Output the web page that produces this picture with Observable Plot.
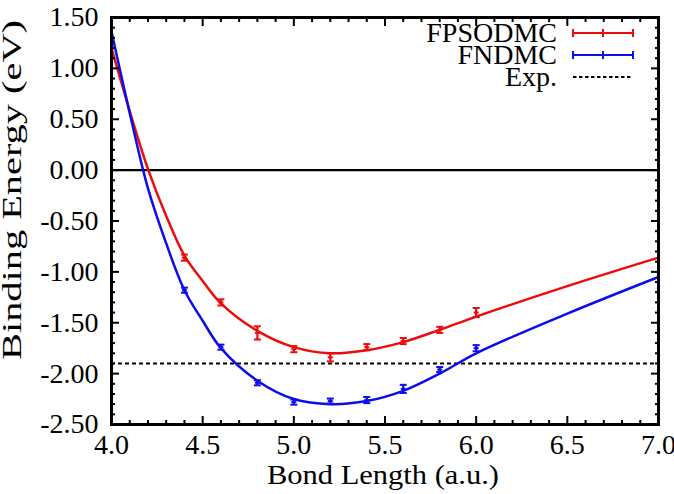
<!DOCTYPE html>
<html><head><meta charset="utf-8">
<script src="https://cdn.jsdelivr.net/npm/d3@7"></script>
<script src="https://cdn.jsdelivr.net/npm/@observablehq/plot@0.6"></script>
<style>body{margin:0;background:#fff;} #chart svg{display:block;overflow:visible;}</style>
</head><body><div id="chart"></div>
<script>
// ---- data ----
const xMajor = [4.0, 4.5, 5.0, 5.5, 6.0, 6.5, 7.0];
const xMinor = [4.1, 4.2, 4.3, 4.4, 4.6, 4.7, 4.8, 4.9, 5.1, 5.2, 5.3, 5.4, 5.6, 5.7, 5.8, 5.9, 6.1, 6.2, 6.3, 6.4, 6.6, 6.7, 6.8, 6.9];
const yMajor = [-2.5, -2.0, -1.5, -1.0, -0.5, 0.0, 0.5, 1.0, 1.5];
const yMinor = [-2.4, -2.3, -2.2, -2.1, -1.9, -1.8, -1.7, -1.6, -1.4, -1.3, -1.2, -1.1, -0.9, -0.8, -0.7, -0.6, -0.4, -0.3, -0.2, -0.1, 0.1, 0.2, 0.3, 0.4, 0.6, 0.7, 0.8, 0.9, 1.1, 1.2, 1.3, 1.4];

const bondLength = [4.4, 4.6, 4.8, 5.0, 5.2, 5.4, 5.6, 5.8, 6.0];
const fpsoEnergy = [-0.86, -1.30, -1.60, -1.76, -1.84, -1.74, -1.68, -1.57, -1.40];
const fpsoError  = [0.03, 0.03, 0.065, 0.03, 0.04, 0.03, 0.03, 0.03, 0.045];
const fnEnergy   = [-1.18, -1.74, -2.09, -2.28, -2.27, -2.26, -2.15, -1.96, -1.75];
const fnError    = [0.025, 0.025, 0.025, 0.025, 0.025, 0.03, 0.04, 0.025, 0.03];

const fitX    = [4.0, 4.1, 4.2, 4.3, 4.4, 4.5, 4.6, 4.8, 5.0, 5.2, 5.4, 5.6, 5.8, 6.0, 6.5, 7.0];
const fpsoFit = [1.20, 0.58, 0.01, -0.45, -0.84, -1.09, -1.31, -1.58, -1.74, -1.80, -1.77, -1.69, -1.57, -1.44, -1.14, -0.86];
const fnFit   = [1.36, 0.56, -0.18, -0.72, -1.18, -1.48, -1.75, -2.07, -2.25, -2.30, -2.27, -2.17, -2.00, -1.80, -1.41, -1.05];
const expEnergy = -1.90;

const seriesNames = ["FPSODMC", "FNDMC", "Exp."];
const RED = "#ec0c0c", BLUE = "#0c0cec";

// ---- tables ----
const fitRows = fitX.map((x, i) => ({x, fpso: fpsoFit[i], fn: fnFit[i]}));
const pts = bondLength.map((x, i) => ({x, fpso: fpsoEnergy[i], fpsoE: fpsoError[i], fn: fnEnergy[i], fnE: fnError[i]}));

const capSymbol = {draw(ctx, size) { const w = Math.sqrt(size / Math.PI); ctx.moveTo(-w, 0); ctx.lineTo(w, 0); }};

function errMarks(key, eKey, color) {
  return [
    Plot.ruleX(pts, {x: "x", y1: d => d[key] - d[eKey], y2: d => d[key] + d[eKey], stroke: color, strokeWidth: 2.2}),
    Plot.dot(pts, {x: "x", y: d => d[key] - d[eKey], symbol: capSymbol, r: 3.5, stroke: color, strokeWidth: 2, fill: "none"}),
    Plot.dot(pts, {x: "x", y: d => d[key] + d[eKey], symbol: capSymbol, r: 3.5, stroke: color, strokeWidth: 2, fill: "none"}),
    Plot.dot(pts, {x: "x", y: key, symbol: capSymbol, r: 2.5, stroke: color, strokeWidth: 2, fill: "none"})
  ];
}

const font = "Liberation Serif, Times New Roman, serif";

const chart = Plot.plot({
  width: 674, height: 494,
  marginLeft: 111, marginRight: 16, marginTop: 17, marginBottom: 70,
  style: {fontFamily: font, background: "#fff", color: "#000"},
  x: {domain: [4, 7]},
  y: {domain: [-2.5, 1.5]},
  marks: [
    Plot.ruleY([0], {stroke: "#000", strokeWidth: 2.2}),
    Plot.ruleY([expEnergy], {stroke: "#000", strokeWidth: 2, strokeDasharray: "4,3"}),
    Plot.line(fitRows, {x: "x", y: "fpso", stroke: RED, strokeWidth: 2.5, curve: "catmull-rom"}),
    Plot.line(fitRows, {x: "x", y: "fn", stroke: BLUE, strokeWidth: 2.5, curve: "catmull-rom"}),
    ...errMarks("fpso", "fpsoE", RED),
    ...errMarks("fn", "fnE", BLUE),
    // tick labels
    Plot.axisX(xMajor, {anchor: "bottom", tickSize: 0, tickPadding: 10, tickFormat: d => d.toFixed(1), fontSize: 28, fontFamily: font, label: null, stroke: "none"}),
    Plot.axisY(yMajor, {anchor: "left", tickSize: 0, tickPadding: 13, tickFormat: d => d.toFixed(2), fontSize: 28, fontFamily: font, label: null, stroke: "none"}),
    // inward ticks on all sides
    Plot.axisX(xMajor, {anchor: "bottom", tickSize: -8, strokeWidth: 2, fill: "none", label: null}),
    Plot.axisX(xMajor, {anchor: "top", tickSize: -8, strokeWidth: 2, fill: "none", label: null}),
    Plot.axisX(xMinor, {anchor: "bottom", tickSize: -4, strokeWidth: 2, fill: "none", label: null}),
    Plot.axisX(xMinor, {anchor: "top", tickSize: -4, strokeWidth: 2, fill: "none", label: null}),
    Plot.axisY(yMajor, {anchor: "left", tickSize: -8, strokeWidth: 2, fill: "none", label: null}),
    Plot.axisY(yMajor, {anchor: "right", tickSize: -8, strokeWidth: 2, fill: "none", label: null}),
    Plot.axisY(yMinor, {anchor: "left", tickSize: -4, strokeWidth: 2, fill: "none", label: null}),
    Plot.axisY(yMinor, {anchor: "right", tickSize: -4, strokeWidth: 2, fill: "none", label: null}),
    Plot.frame({stroke: "#000", strokeWidth: 3})
  ]
});

document.getElementById("chart").appendChild(chart);

// ---- axis titles and legend ----
const svg = d3.select(chart).attr("font-family", font);
svg.append("text").attr("x", 383).attr("y", 484).attr("text-anchor", "middle")
  .style("font-family", font).attr("font-size", 28).attr("fill", "#000")
  .attr("textLength", 232).attr("lengthAdjust", "spacingAndGlyphs").text("Bond Length (a.u.)");
svg.append("text").attr("transform", "translate(21,190) rotate(-90)").attr("text-anchor", "middle")
  .style("font-family", font).attr("font-size", 27).attr("fill", "#000")
  .attr("textLength", 340).attr("lengthAdjust", "spacingAndGlyphs").text("Binding Energy (eV)");

const legendColors = [RED, BLUE, "#000"];
const lg = svg.append("g");
seriesNames.forEach((name, i) => {
  const cy = 33 + i * 22;
  lg.append("text").attr("x", 557).attr("y", cy + 9).attr("text-anchor", "end")
    .style("font-family", font).attr("font-size", 28).attr("fill", "#000").text(name);
  const line = lg.append("line").attr("x1", 573).attr("x2", 633).attr("y1", cy).attr("y2", cy)
    .attr("stroke", legendColors[i]).attr("stroke-width", 2);
  if (i === 2) line.attr("stroke-dasharray", "3.5,2.5");
  else [573, 603, 633].forEach(px => lg.append("line").attr("x1", px).attr("x2", px)
        .attr("y1", cy - 4).attr("y2", cy + 4).attr("stroke", legendColors[i]).attr("stroke-width", 2));
});
</script>
</body></html>
